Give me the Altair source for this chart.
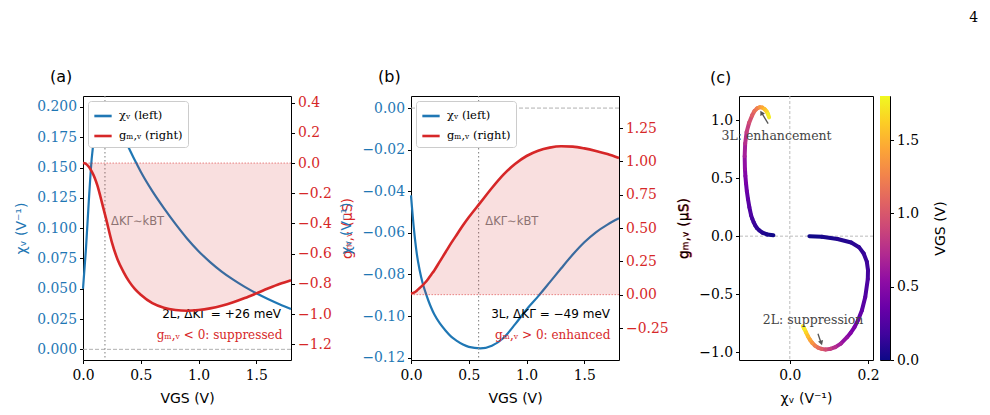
import altair as alt
import pandas as pd

# ---------------- data ----------------
V = [0.0, 0.025, 0.05, 0.075, 0.1, 0.125, 0.15, 0.175, 0.2, 0.25, 0.3, 0.35, 0.4, 0.45,
     0.5, 0.6, 0.7, 0.8, 0.9, 1.0, 1.1, 1.2, 1.3, 1.4, 1.5, 1.6, 1.7, 1.8]

chi_2L = [0.050, 0.082, 0.122, 0.157, 0.177, 0.189, 0.197, 0.200, 0.1995, 0.193, 0.1845,
          0.1753, 0.1655, 0.1557, 0.1465, 0.1305, 0.1165, 0.1035, 0.0915, 0.081, 0.072,
          0.0642, 0.0575, 0.0515, 0.0462, 0.0415, 0.0372, 0.0333]
gm_2L = [0.0, -0.005, -0.025, -0.055, -0.095, -0.15, -0.22, -0.295, -0.37, -0.525, -0.64,
         -0.72, -0.785, -0.835, -0.872, -0.928, -0.958, -0.973, -0.978, -0.973, -0.962, -0.945,
         -0.922, -0.894, -0.863, -0.831, -0.801, -0.776]

chi_3L = [-0.042, -0.058, -0.070, -0.078, -0.084, -0.0885, -0.0925, -0.096, -0.099, -0.1035,
          -0.107, -0.110, -0.112, -0.1137, -0.1148, -0.1155, -0.1142, -0.1105, -0.104, -0.0968,
          -0.0905, -0.0838, -0.0770, -0.0704, -0.0645, -0.0597, -0.0560, -0.0530]
gm_3L = [0.008, 0.015, 0.03, 0.05, 0.07, 0.093, 0.12, 0.15, 0.18, 0.25, 0.32, 0.39, 0.455,
         0.52, 0.58, 0.69, 0.80, 0.90, 0.98, 1.04, 1.08, 1.103, 1.113, 1.11, 1.097, 1.078,
         1.055, 1.025]

LBL_CHI = "χᵥ (left)"
LBL_GM = "gₘ,ᵥ (right)"
BLUE = "#1f77b4"
RED = "#d62728"
SERIF = "DejaVu Serif"
SANS = "DejaVu Sans"
MINUS = "replace(datum.label, '-', '−')"
LFS = 13.9  # tick-label font size

W_AB, H, W_C = 208, 264, 134
one = pd.DataFrame({"a": [0]})


def legend():
    return alt.Legend(orient="top-left", offset=5, padding=5, title=None,
                      strokeColor="#cccccc", fillColor="white", cornerRadius=3,
                      symbolType="stroke", symbolStrokeWidth=2.6, symbolSize=300,
                      labelFont=SERIF, labelFontSize=11.5, rowPadding=4, labelOffset=6)


def ax(**kw):
    base = dict(labelFont=SERIF, labelFontSize=LFS, labelFlush=False, labelOverlap=False,
                titleFont=SANS, titleFontSize=14, titleFontWeight="normal", tickCount=30)
    base.update(kw)
    return alt.Axis(**base)


def panel(chi, gm, chi_dom, chi_vals, chi_fmt, gm_dom, gm_vals, gm_fmt, kt_v,
          kt_pos, dtext, dtext_pos, gtext, gtext_pos, title):
    df = pd.DataFrame({"V": V, "chi": chi, "gm": gm, "zero": [0.0] * len(V),
                       "s_chi": [LBL_CHI] * len(V), "s_gm": [LBL_GM] * len(V)})
    xs = alt.Scale(domain=[0, 1.8], nice=False, zero=False)
    xax = ax(values=[0, 0.5, 1.0, 1.5], format=".1f", title="VGS (V)", titlePadding=9,
             labelPadding=5)
    cs = alt.Scale(domain=chi_dom, nice=False, zero=False)
    gs = alt.Scale(domain=gm_dom, nice=False, zero=False)
    color_scale = alt.Scale(domain=[LBL_CHI, LBL_GM], range=[BLUE, RED])
    base = alt.Chart(df)
    ob = alt.Chart(one)

    blue = base.mark_line(strokeWidth=2.2, interpolate="monotone").encode(
        x=alt.X("V:Q", scale=xs, axis=xax),
        y=alt.Y("chi:Q", scale=cs,
                axis=ax(orient="left", values=chi_vals, format=chi_fmt, labelExpr=MINUS,
                        labelColor=BLUE, titleColor=BLUE, title="χᵥ (V⁻¹)", titlePadding=8)),
        color=alt.Color("s_chi:N", scale=color_scale, legend=legend(), title=None),
    )
    zero_rule = ob.mark_rule(color="#b0b0b0", strokeDash=[4, 2], strokeWidth=1).encode(
        y=alt.datum(0))
    v_rule = ob.mark_rule(color="#888888", strokeDash=[1.5, 2.5], strokeWidth=1.1).encode(
        x=alt.datum(kt_v))
    kt = ob.mark_text(align="left", baseline="middle", font=SANS, fontSize=11.5,
                      color="#7f7f7f").encode(
        x=alt.datum(kt_pos[0]), y=alt.datum(kt_pos[1]), text=alt.value("ΔKΓ∼kBT"))
    dt = ob.mark_text(align="right", baseline="middle", font=SANS, fontSize=12,
                      color="black").encode(
        x=alt.datum(dtext_pos[0]), y=alt.datum(dtext_pos[1]), text=alt.value(dtext))
    gt = ob.mark_text(align="right", baseline="middle", font=SERIF, fontSize=12,
                      color=RED).encode(
        x=alt.datum(gtext_pos[0]), y=alt.datum(gtext_pos[1]), text=alt.value(gtext))
    left = alt.layer(blue, zero_rule, v_rule, kt, dt, gt)

    area = base.mark_area(color=RED, opacity=0.15, interpolate="monotone").encode(
        x=alt.X("V:Q", scale=xs, axis=xax),
        y=alt.Y("gm:Q", scale=gs,
                axis=ax(orient="right", values=gm_vals, format=gm_fmt, labelExpr=MINUS,
                        labelColor=RED, titleColor=RED, title="gₘ,ᵥ (μS)",
                        titleAngle=270, titleBaseline="top", titlePadding=9)),
        y2="zero:Q",
    )
    red = base.mark_line(strokeWidth=2.6, interpolate="monotone").encode(
        x="V:Q", y="gm:Q",
        color=alt.Color("s_gm:N", scale=color_scale, legend=legend(), title=None),
    )
    red_rule = ob.mark_rule(color=RED, opacity=0.6, strokeDash=[1.5, 1.5],
                            strokeWidth=0.9).encode(y=alt.datum(0))
    right = alt.layer(area, red_rule, red)

    return alt.layer(left, right).resolve_scale(y="independent").properties(
        width=W_AB, height=H,
        title=alt.Title(title, anchor="start", frame="group", dx=-33, fontSize=16, font=SANS,
                        fontWeight="normal", offset=10))


pa = panel(chi_2L, gm_2L, [-0.0088, 0.209],
           [0, 0.025, 0.05, 0.075, 0.1, 0.125, 0.15, 0.175, 0.2], ".3f",
           [-1.304, 0.444], [-1.2, -1.0, -0.8, -0.6, -0.4, -0.2, 0.0, 0.2, 0.4], ".1f",
           0.19, (0.243, 0.105), "2L,  ΔKΓ = +26 meV", (1.714, 0.0294),
           "gₘ,ᵥ < 0: suppressed", (1.725, 0.0118), "(a)")

pb = panel(chi_3L, gm_3L, [-0.1211, 0.0058],
           [-0.12, -0.10, -0.08, -0.06, -0.04, -0.02, 0.0], ".2f",
           [-0.49, 1.49], [-0.25, 0.0, 0.25, 0.5, 0.75, 1.0, 1.25], ".2f",
           0.585, (0.643, -0.0548), "3L,  ΔKΓ = −49 meV", (1.722, -0.0989),
           "gₘ,ᵥ > 0: enhanced", (1.725, -0.109), "(b)")

# ---------------- panel (c): parametric trajectories ----------------
rows = []
for chi, gm in ((chi_2L, gm_2L), (chi_3L, gm_3L)):
    for i in range(len(V) - 1):
        rows.append({"x": chi[i], "y": gm[i], "x2": chi[i + 1], "y2": gm[i + 1],
                     "v": (V[i] + V[i + 1]) / 2})
seg = pd.DataFrame(rows)
cxs = alt.Scale(domain=[-0.130, 0.2128], nice=False, zero=False)
cys = alt.Scale(domain=[-1.069, 1.21], nice=False, zero=False)
ob = alt.Chart(one)
guides = alt.layer(
    ob.mark_rule(color="#bbbbbb", strokeDash=[3, 2], strokeWidth=1).encode(x=alt.datum(0)),
    ob.mark_rule(color="#bbbbbb", strokeDash=[3, 2], strokeWidth=1).encode(y=alt.datum(0)),
)
curve = alt.Chart(seg).mark_rule(strokeWidth=4, strokeCap="round").encode(
    x=alt.X("x:Q", scale=cxs, axis=ax(values=[0.0, 0.2], format=".1f", title="χᵥ (V⁻¹)",
                                      titlePadding=9, labelPadding=5)),
    y=alt.Y("y:Q", scale=cys, axis=ax(values=[-1.0, -0.5, 0.0, 0.5, 1.0], format=".1f",
                                      labelExpr=MINUS, title="gₘ,ᵥ (μS)", titlePadding=8)),
    x2="x2:Q", y2="y2:Q",
    color=alt.Color("v:Q", scale=alt.Scale(scheme="plasma", domain=[0, 1.8]), legend=None),
)
ann_style = dict(font=SERIF, fontSize=12.5, color="#444444", baseline="middle", align="center")
ann = alt.layer(
    ob.mark_text(**ann_style).encode(x=alt.datum(-0.034), y=alt.datum(0.864),
                                     text=alt.value("3L: enhancement")),
    ob.mark_text(**ann_style).encode(x=alt.datum(0.0595), y=alt.datum(-0.727),
                                     text=alt.value("2L: suppression")),
    ob.mark_rule(color="#555555", strokeWidth=1.3).encode(
        x=alt.datum(-0.0554), y=alt.datum(0.971), x2=alt.datum(-0.0705), y2=alt.datum(1.055)),
    ob.mark_point(shape="triangle-up", filled=True, size=28, color="#555555", angle=330,
                  opacity=1).encode(x=alt.datum(-0.0725), y=alt.datum(1.065)),
    ob.mark_rule(color="#555555", strokeWidth=1.3).encode(
        x=alt.datum(0.072), y=alt.datum(-0.843), x2=alt.datum(0.079), y2=alt.datum(-0.912)),
    ob.mark_point(shape="triangle-up", filled=True, size=28, color="#555555", angle=162,
                  opacity=1).encode(x=alt.datum(0.0805), y=alt.datum(-0.922)),
)
pc = alt.layer(guides, curve, ann).properties(
    width=W_C, height=H,
    title=alt.Title("(c)", anchor="start", frame="group", dx=-29, fontSize=16, font=SANS,
                    fontWeight="normal", offset=10))

plasma = ["#0d0887", "#41049d", "#6a00a8", "#8f0da4", "#b12a90", "#cc4778",
          "#e16462", "#f2844b", "#fca636", "#fcce25", "#f0f921"]
grad = alt.LinearGradient(
    gradient="linear", x1=0, x2=0, y1=1, y2=0,
    stops=[alt.GradientStop(color=c, offset=i / (len(plasma) - 1)) for i, c in enumerate(plasma)])
cbar = alt.Chart(one).mark_rect(fill=grad).encode(
    y=alt.YDatum(0, scale=alt.Scale(domain=[0, 1.8], nice=False, zero=False),
                 axis=ax(orient="right", values=[0, 0.5, 1.0, 1.5], format=".1f",
                         title="VGS (V)", titleAngle=270, titleBaseline="top",
                         titlePadding=15)),
    y2=alt.Y2Datum(1.8),
).properties(width=10, height=H)

right_group = alt.hconcat(pc, cbar, spacing=7, bounds="flush")

chart = alt.hconcat(pa, pb, right_group, spacing=120, bounds="flush").resolve_scale(
    color="independent").properties(
    title=alt.Title("4", anchor="end", dx=30, fontSize=14, font=SERIF, fontWeight="normal",
                    offset=44),
    padding={"left": 14, "top": 10, "right": 5, "bottom": 5},
).configure_view(stroke="black", strokeWidth=1).configure_axis(
    grid=False, domain=False, tickColor="black", tickSize=3.5, labelPadding=3,
    labelFlush=False, labelOverlap=False,
    labelFont=SERIF, labelFontSize=LFS, titleFont=SANS, titleFontSize=14,
    titleFontWeight="normal", labelColor="black", titleColor="black",
)

chart.save("out.html", embed_options={"renderer": "svg", "actions": False})
